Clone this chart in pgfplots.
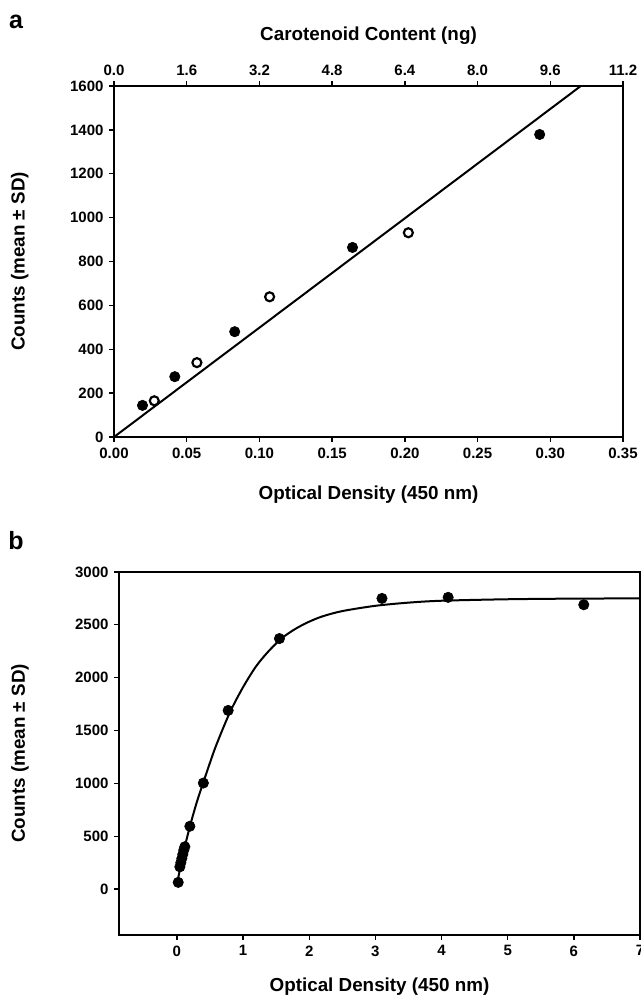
\documentclass[border=0pt]{standalone}
\usepackage{fontspec}
\setmainfont{Liberation Sans}
\usepackage{pgfplots}
\pgfplotsset{compat=1.18}

\pgfplotsset{
  refstyle/.style={
    scale only axis,
    axis line style={line width=0.9pt},
    every tick/.style={line width=0.8pt, black},
    tick align=outside,
    major tick length=2.8pt,
    /pgf/number format/assume math mode=true,
    /pgf/number format/1000 sep={},
    tick label style={font=\bfseries\fontsize{9}{10}\selectfont},
    label style={font=\bfseries\fontsize{11.3}{13}\selectfont},
    xtick pos=bottom, ytick pos=left,
  }
}

\begin{document}
\begin{tikzpicture}
% ---------- panel a ----------
\begin{axis}[refstyle,
  at={(68.4pt,339pt)}, anchor=south west,
  width=305.4pt, height=210.6pt,
  xmin=0, xmax=0.35, ymin=0, ymax=1600,
  xtick={0,0.05,0.10,0.15,0.20,0.25,0.30,0.35},
  xticklabels={0.00,0.05,0.10,0.15,0.20,0.25,0.30,0.35},
  ytick={0,200,...,1600},
  xlabel={Optical Density (450 nm)},
  ylabel={Counts (mean ± SD)},
  xlabel style={at={(axis description cs:0.5,-0.165)}, anchor=center},
  ylabel style={at={(axis description cs:-0.185,0.5)}, anchor=center},
]
\addplot[black, line width=1.2pt] coordinates {(0,0) (0.321,1600)};
\addplot[only marks, mark=*, mark size=3.1pt, black] coordinates {
 (0.0196,144) (0.0418,275) (0.083,480) (0.164,864) (0.2927,1379)};
\addplot[only marks, mark=o, mark size=2.7pt, black, line width=1.3pt,
  mark options={fill=white}] coordinates {
 (0.0277,165) (0.057,339) (0.107,639) (0.2024,931)};
\end{axis}
\begin{axis}[refstyle,
  at={(68.4pt,339pt)}, anchor=south west,
  width=305.4pt, height=210.6pt,
  xmin=0, xmax=11.2, ymin=0, ymax=1600,
  axis x line*=top, axis y line=none,
  xtick pos=top,
  xtick={0,1.6,3.2,4.8,6.4,8.0,9.6,11.2},
  xticklabels={0.0,1.6,3.2,4.8,6.4,8.0,9.6,11.2},
  xlabel={Carotenoid Content (ng)},
  xlabel style={at={(axis description cs:0.5,1.142)}, anchor=center},
]
\addplot[draw=none] coordinates {(0,0)};
\end{axis}
% ---------- panel b ----------
\begin{axis}[refstyle,
  at={(71.4pt,40.2pt)}, anchor=south west,
  width=312.6pt, height=217.8pt,
  xmin=-0.875, xmax=7, ymin=-435, ymax=3000,
  xtick={0,1,...,7},
  ytick={0,500,...,3000},
  xlabel={Optical Density (450 nm)},
  ylabel={Counts (mean ± SD)},
  xlabel style={at={(axis description cs:0.5,-0.143)}, anchor=center},
  ylabel style={at={(axis description cs:-0.19,0.5)}, anchor=center},
]
\addplot[black, line width=1.2pt, smooth, tension=0.5] coordinates {
 (0.0,40) (0.05,200) (0.1,350) (0.2,600) (0.3,820) (0.4,1010) (0.5,1195)
 (0.6,1370) (0.8,1670) (1.0,1910) (1.2,2110) (1.4,2260) (1.6,2380)
 (1.8,2465) (2.0,2530) (2.2,2580) (2.5,2630) (3.0,2680) (3.5,2710) (4.0,2728)
 (5.0,2742) (6.0,2748) (7.0,2750)};
\addplot[only marks, mark=*, mark size=3.1pt, black] coordinates {
 (0.02,63) (0.045,210) (0.06,250) (0.075,290) (0.09,330) (0.105,370) (0.12,400)
 (0.196,594) (0.40,1003) (0.775,1690) (1.55,2370) (3.1,2750) (4.1,2760) (6.15,2690)};
\end{axis}
\node[font=\bfseries\fontsize{15}{17}\selectfont] at (9.6pt,588pt) {a};
\node[font=\bfseries\fontsize{15}{17}\selectfont] at (9.6pt,277pt) {b};
\pgfresetboundingbox
\useasboundingbox (0,0) rectangle (384.6pt,601.2pt);
\end{tikzpicture}
\end{document}
